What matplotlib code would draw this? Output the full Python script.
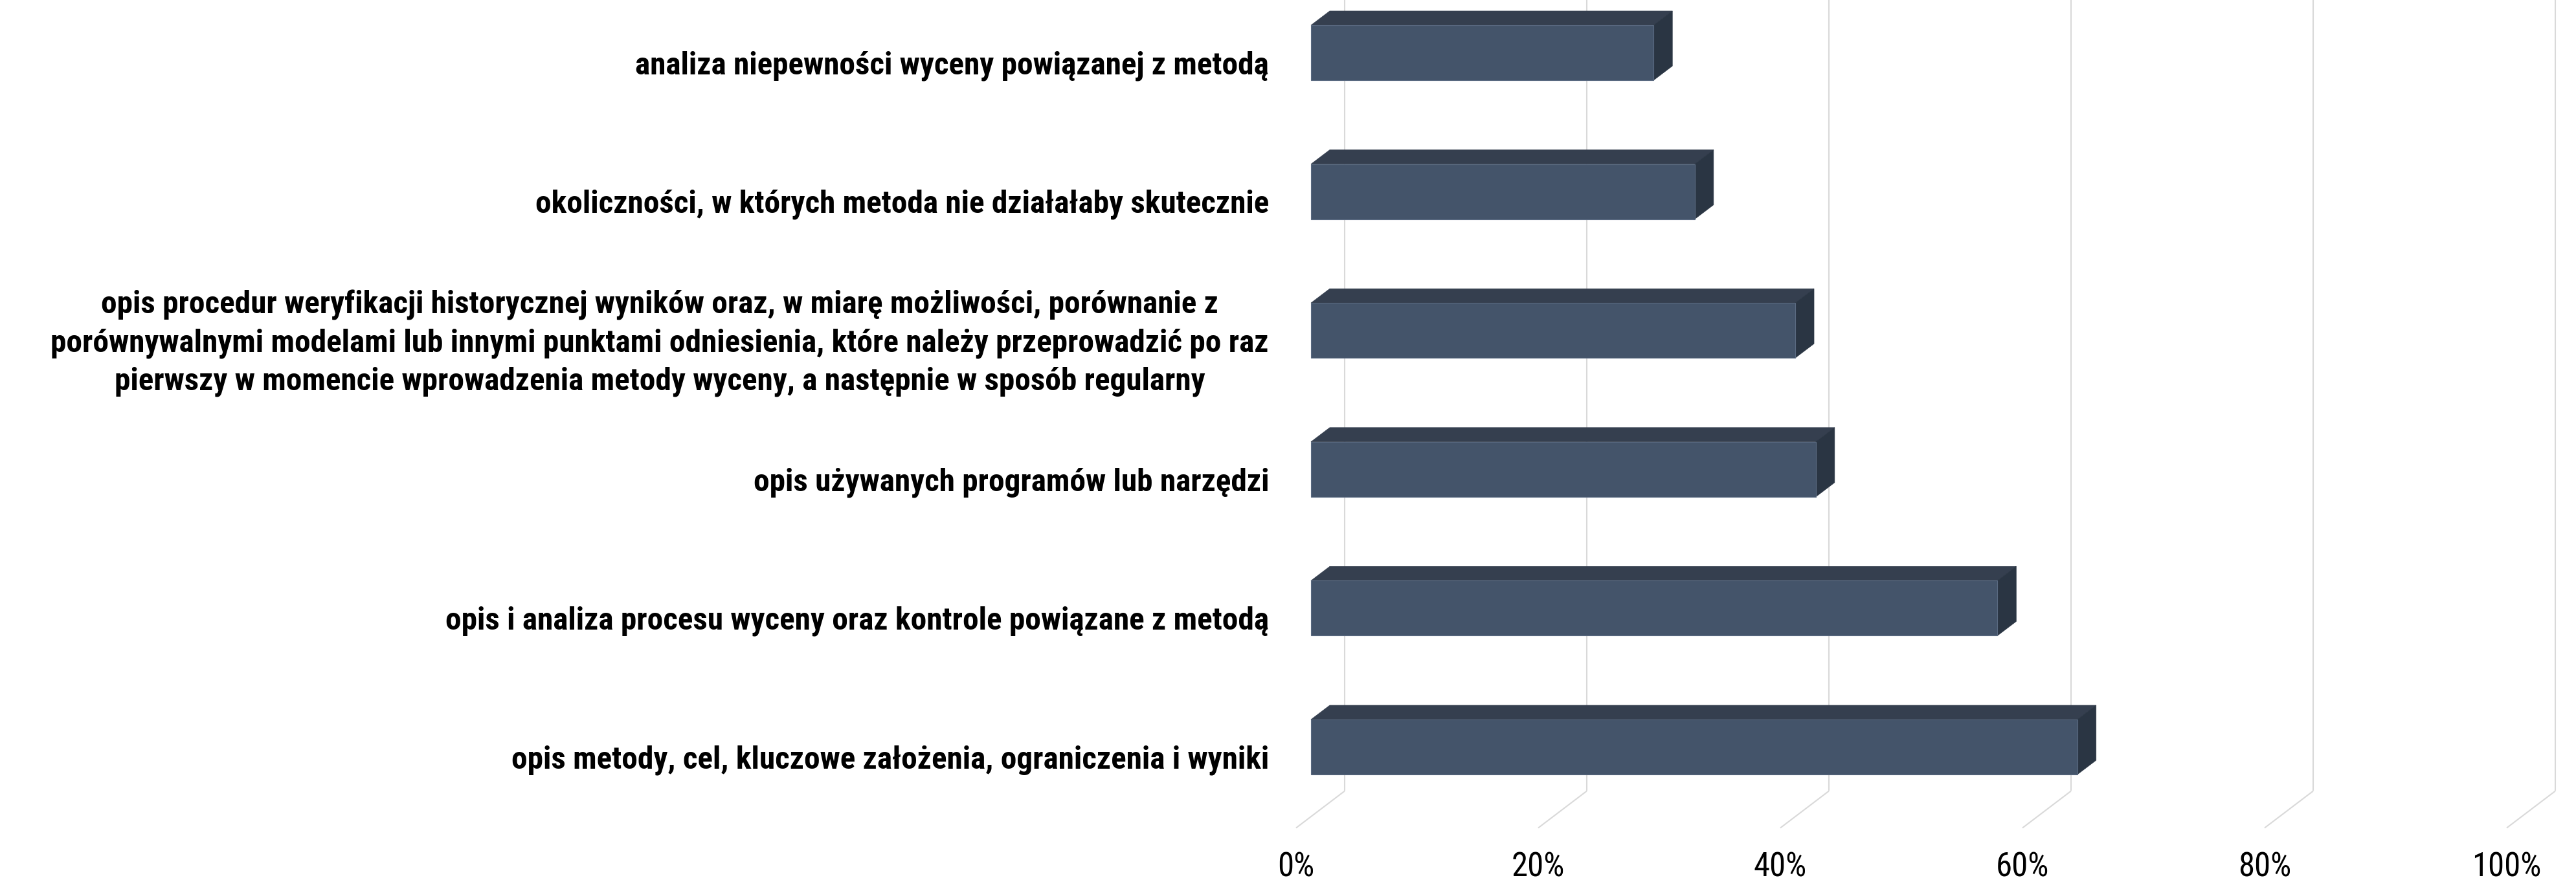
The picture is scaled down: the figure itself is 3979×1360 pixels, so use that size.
import os
import matplotlib
matplotlib.use("Agg")
import matplotlib.pyplot as plt
from matplotlib.patches import Polygon, Rectangle
from matplotlib import font_manager as fm
from matplotlib.font_manager import FontProperties

# ---------------- data ----------------
categories = [
    "analiza niepewności wyceny powiązanej z metodą",
    "okoliczności, w których metoda nie działałaby skutecznie",
    "opis procedur weryfikacji historycznej wyników oraz, w miarę możliwości, porównanie z\n"
    "porównywalnymi modelami lub innymi punktami odniesienia, które należy przeprowadzić po raz\n"
    "pierwszy w momencie wprowadzenia metody wyceny, a następnie w sposób regularny",
    "opis używanych programów lub narzędzi",
    "opis i analiza procesu wyceny oraz kontrole powiązane z metodą",
    "opis metody, cel, kluczowe założenia, ograniczenia i wyniki",
]
values = [28.3, 31.7, 40.0, 41.7, 56.7, 63.3]
ticks = [0, 20, 40, 60, 80, 100]
tick_labels = ["0%", "20%", "40%", "60%", "80%", "100%"]

# ---------------- style ----------------
W, H, DPI = 3979, 1360, 100
FRONT = "#44546A"
TOP = "#353F4F"
SIDE = "#2A3543"
GRID = "#D9D9D9"


def wnum(w):
    if isinstance(w, str):
        return fm.weight_dict.get(w, 400)
    return w


def is_condensed(f):
    base = os.path.basename(f.fname).lower()
    return (f.stretch in ("condensed", "semi-condensed", "extra-condensed")
            or "narrow" in f.name.lower() or "condensed" in f.name.lower()
            or "condensed" in base or "narrow" in base)


def pick_font(bold):
    prefs = ["liberation sans narrow", "roboto condensed", "open sans condensed",
             "noto sans", "open sans", "dejavu sans"]
    best = None
    for f in fm.fontManager.ttflist:
        if not is_condensed(f):
            continue
        if f.style != "normal":
            continue
        wt = wnum(f.weight)
        if bold and wt < 600:
            continue
        if not bold and (wt < 350 or wt > 500):
            continue
        name = f.name.lower()
        rank = len(prefs)
        for k, p in enumerate(prefs):
            if name.startswith(p):
                rank = k
                break
        base = os.path.basename(f.fname).lower()
        sub = 0 if ("semi" not in base and "extra" not in base) else 1
        key = (rank, sub)
        if best is None or key < best[0]:
            best = (key, f.fname)
    if best is None:
        return FontProperties(family="Lato", weight="bold" if bold else "normal")
    return FontProperties(fname=best[1])


FP_BOLD = pick_font(True)
FP_REG = pick_font(False)

fig = plt.figure(figsize=(W / DPI, H / DPI), dpi=DPI)
ax = fig.add_axes([0, 0, 1, 1])
ax.axis("off")

SX = 18.7      # px per 1 %
PY = 214.6     # px per category
X0 = 2025      # px of 0 % on the bar front plane
Y0 = 81.5      # px of first bar centre
ax.set_xlim(-X0 / SX, (W - X0) / SX)
ax.set_ylim((H - Y0) / PY, -Y0 / PY)


def dx(px):
    return px / SX


def dy(px):
    return px / PY


hh = dy(42.5)                    # half bar height
bdx, bdy = dx(29), dy(-22)       # bar depth
wdx, wdy = dx(52), dy(-39.5)     # back wall offset
fdx, fdy = dx(-23), dy(17.5)     # floor front offset

n = len(categories)
floor_y = (n - 1) + hh + dy(65)  # floor on the bar front plane
top_y = ax.get_ylim()[1]

# back-wall gridlines and floor lines
for t in ticks:
    ax.plot([t + wdx, t + wdx], [top_y, floor_y + wdy], color=GRID, lw=1.5,
            solid_capstyle="butt", zorder=1)
    ax.plot([t + wdx, t + fdx], [floor_y + wdy, floor_y + fdy], color=GRID,
            lw=1.5, solid_capstyle="butt", zorder=1)

# 3D bars
for i, v in enumerate(values):
    y_top = i - hh
    y_bot = i + hh
    top = Polygon([(0, y_top), (v, y_top), (v + bdx, y_top + bdy), (bdx, y_top + bdy)],
                  closed=True, facecolor=TOP, edgecolor=TOP, lw=0.5, zorder=3)
    side = Polygon([(v, y_top), (v, y_bot), (v + bdx, y_bot + bdy), (v + bdx, y_top + bdy)],
                   closed=True, facecolor=SIDE, edgecolor=SIDE, lw=0.5, zorder=3)
    front = Rectangle((0, y_top), v, 2 * hh, facecolor=FRONT, edgecolor="#5B6B82",
                      lw=0.8, zorder=4)
    ax.add_patch(top)
    ax.add_patch(side)
    ax.add_patch(front)

# font size fitting to the reference text widths
renderer = fig.canvas.get_renderer()


def fit(text, target_px, fp):
    p = fp.copy()
    p.set_size(36)
    tt = ax.text(0, 0, text, fontproperties=p)
    w = tt.get_window_extent(renderer=renderer).width
    tt.remove()
    return 36 * target_px / w


lab_fp = FP_BOLD.copy()
lab_fp.set_size(fit(categories[5], 1172, FP_BOLD))
tick_fp = FP_REG.copy()
tick_fp.set_size(fit("100%", 107, FP_REG))

# category labels
for i, c in enumerate(categories):
    ax.text(dx(-65), i + dy(20), c, ha="right", va="center", multialignment="center",
            fontproperties=lab_fp, color="black", linespacing=1.35, zorder=5)

# tick labels
for t, lab in zip(ticks, tick_labels):
    ax.text(t + fdx, floor_y + fdy + dy(61), lab, ha="center", va="center",
            fontproperties=tick_fp, color="black", zorder=5)

fig.savefig("out.png", dpi=DPI, facecolor="white")
